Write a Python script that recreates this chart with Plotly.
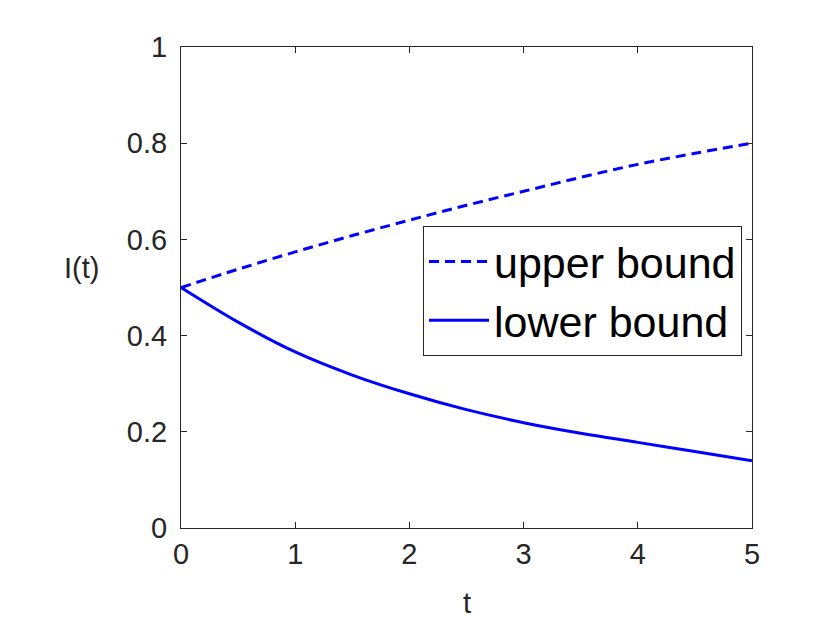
import plotly.graph_objects as go

t = [0, 0.5, 1, 1.5, 2, 2.5, 3, 3.5, 4, 4.5, 5]
upper = [0.5, 0.538, 0.574, 0.608, 0.640, 0.671, 0.700, 0.729, 0.756, 0.779, 0.800]
lower = [0.5, 0.428, 0.366, 0.318, 0.279, 0.246, 0.219, 0.197, 0.178, 0.159, 0.140]

x_ticks = [0, 1, 2, 3, 4, 5]
x_tick_labels = ["0", "1", "2", "3", "4", "5"]
y_ticks = [0, 0.2, 0.4, 0.6, 0.8, 1]
y_tick_labels = ["0", "0.2", "0.4", "0.6", "0.8", "1"]

FONT = "Liberation Sans, Arial, Helvetica, sans-serif"
AX = "#262626"

fig = go.Figure()
fig.add_trace(go.Scatter(x=t, y=upper, mode="lines", name="upper bound",
                         line=dict(color="#0000FF", width=3, dash="10px,6px", shape="spline")))
fig.add_trace(go.Scatter(x=t, y=lower, mode="lines", name="lower bound",
                         line=dict(color="#0000FF", width=3, shape="spline")))

axis_common = dict(showgrid=False, zeroline=False, showline=True, linecolor=AX, linewidth=1,
                   mirror="ticks", ticks="inside", ticklen=6, tickcolor=AX, tickwidth=1,
                   tickfont=dict(family=FONT, size=29, color=AX))
fig.update_xaxes(range=[0, 5], tickvals=x_ticks, ticktext=x_tick_labels, **axis_common)
fig.update_yaxes(range=[0, 1], tickvals=y_ticks, ticktext=y_tick_labels,
                 ticklabelstandoff=7, **axis_common)

W, H = 822, 615
L, R, T, B = 173, 78, 39, 95
pw, ph = W - L - R, H - T - B

fig.update_layout(
    width=W, height=H,
    margin=dict(l=L, r=R, t=T, b=B, autoexpand=False),
    paper_bgcolor="white", plot_bgcolor="white",
    showlegend=True,
    legend=dict(x=(423 - 181) / pw, y=(528 - 226) / ph, xanchor="left", yanchor="top",
                bgcolor="white", bordercolor=AX, borderwidth=1,
                font=dict(family=FONT, size=43, color="black"),
                itemwidth=60, tracegroupgap=0),
    annotations=[
        dict(text="t", xref="paper", yref="paper", x=0.5, y=-(603 - 528) / ph, xanchor="center",
             yanchor="middle", showarrow=False, font=dict(family=FONT, size=29, color=AX)),
        dict(text="I(t)", xref="paper", yref="paper", x=(81 - 181) / pw, y=(528 - 268) / ph,
             xanchor="center", yanchor="middle", showarrow=False,
             font=dict(family=FONT, size=29, color=AX)),
    ],
)

fig.write_html("out.html")
